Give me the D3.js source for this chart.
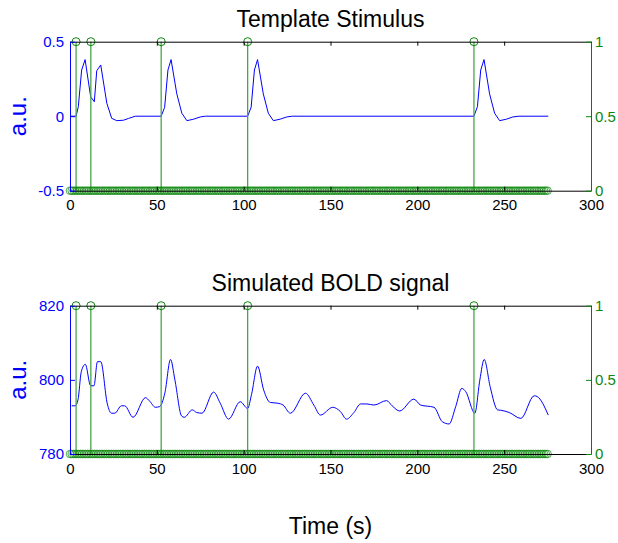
<!DOCTYPE html>
<html>
<head>
<meta charset="utf-8">
<script src="https://cdn.jsdelivr.net/npm/d3@7/dist/d3.min.js"></script>
<style>
html,body{margin:0;padding:0;background:#fff;}
svg{display:block;}
text{font-family:"Liberation Sans",Arial,Helvetica,sans-serif;}
</style>
</head>
<body>
<svg id="chart" width="618" height="543"></svg>
<script>
// ---------- data ----------
const xTicks = [0, 50, 100, 150, 200, 250, 300];
const topLeftTicks = [-0.5, 0, 0.5];
const botLeftTicks = [780, 800, 820];
const rightTicks = [0, 0.5, 1];

// stimulus onsets (stems with value 1)
const onsets = [3.5, 12, 52.5, 102.3, 232.6];
// stimulus sample times with value 0 (every 1 s)
const zeroTimes = d3.range(0, 276, 1);

// Template stimulus [time, a.u.]
const templateT = [0,3.5,4.8,6.7,8.7,11.9,14,15.4,17.7,21.2,24,26.9,30.8,33.7,37.6,
  52.5,54.5,56.4,58.2,61.5,64.4,67.3,71.2,75,78,
  102.3,104.3,106.2,108,111.3,114.2,117.1,121,124.8,128,
  232.6,234.6,236.5,238.4,241.6,244.5,247.4,251.3,255,258.5,275.4];
const templateV = [0,0,0.064,0.31,0.38,0.13,0.097,0.305,0.344,0.087,-0.014,-0.03,-0.027,-0.015,0,
  0,0.06,0.31,0.38,0.15,0.02,-0.03,-0.02,-0.005,0,
  0,0.06,0.31,0.38,0.15,0.02,-0.03,-0.02,-0.005,0,
  0,0.064,0.31,0.38,0.15,0.02,-0.03,-0.02,-0.005,0,0];

// Simulated BOLD signal [time, a.u.]
const boldT = [1,3,4.6,6.5,8.8,11.9,13.8,15.8,17.7,21.5,23.8,25.8,29.6,31.5,36.3,43.5,45.8,49.2,51.7,
  54.6,57.9,60.4,64.2,65.8,70.4,72.9,76,82.7,86.5,91.3,98,102.3,104.5,108,111.5,115.3,119.6,122.7,
  126.9,135.6,140.4,144.2,151.3,155.8,159.2,163.5,167.3,171,175,182.3,185.5,189.8,198,201.9,209.6,
  214.4,218.3,222.1,225.6,227.9,233.1,236,238.5,242,246.2,248,252.9,259.6,267.3,269,275.4];
const boldV = [793,793,794.6,802.2,804.2,798.4,798.4,804.9,804.9,793.5,791,791,793,793,789.9,795.2,794.3,792.6,792.8,
  796.4,805.5,800,790.3,789.9,791.9,791.2,791,796.7,793.7,789.4,794.1,792.3,796,803.7,797.3,793.9,793.7,793.2,
  791,796.4,793.2,790.5,792.6,791.4,789.4,791.2,793.5,793.5,793.2,794.4,793,791.6,794.8,793.2,792.6,
  788.7,788.1,792.8,797.7,796.8,791,800,805.5,798,791.9,791.8,791.2,789.6,795.7,795.5,790.5];

// ---------- drawing ----------
const svg = d3.select("#chart");
const X0 = 70, X1 = 591;
const x = d3.scaleLinear().domain([0, 300]).range([X0, X1]);
const BLUE = "#0000ff", GREEN = "#0c870c", STEM = "#4aa64a", TEAL = "#1f5a78";
const fmt = d => String(d);

function panel(cfg) {
  const yL = d3.scaleLinear().domain(cfg.leftDomain).range([cfg.bottom, cfg.top]);
  const yR = d3.scaleLinear().domain([0, 1]).range([cfg.bottom, cfg.top]);
  const g = svg.append("g");

  // blue series
  const line = d3.line().x(d => x(d[0])).y(d => yL(d[1])).curve(cfg.curve);
  g.append("path")
    .datum(cfg.t.map((t, i) => [t, cfg.v[i]]))
    .attr("fill", "none").attr("stroke", BLUE).attr("stroke-width", 1)
    .attr("d", line);

  // stems
  g.selectAll("line.stem").data(onsets).join("line")
    .attr("x1", d => x(d)).attr("x2", d => x(d))
    .attr("y1", yR(0)).attr("y2", yR(1))
    .attr("stroke", STEM).attr("stroke-width", 1.3);
  g.selectAll("circle.zero").data(zeroTimes).join("circle")
    .attr("cx", d => x(d)).attr("cy", yR(0)).attr("r", 3.8)
    .attr("fill", "none").attr("stroke", GREEN).attr("stroke-width", 0.7);
  g.selectAll("circle.one").data(onsets).join("circle")
    .attr("cx", d => x(d)).attr("cy", yR(1)).attr("r", 4)
    .attr("fill", "none").attr("stroke", GREEN).attr("stroke-width", 1);

  // axes
  const axB = g.append("g").attr("transform", `translate(0,${cfg.bottom})`)
    .call(d3.axisBottom(x).tickValues(xTicks).tickSizeInner(-4).tickSizeOuter(0).tickPadding(9).tickFormat(fmt));
  axB.select(".domain").attr("stroke", "#000");
  axB.selectAll("line").attr("stroke", "#000");
  axB.selectAll("text").attr("fill", "#000").style("font-size", "15px");

  const axT = g.append("g").attr("transform", `translate(0,${cfg.top})`)
    .call(d3.axisTop(x).tickValues(xTicks).tickSizeInner(-4).tickSizeOuter(0).tickFormat(""));
  axT.select(".domain").attr("stroke", "#000");
  axT.selectAll("line").attr("stroke", "#000");

  const axL = g.append("g").attr("transform", `translate(${X0},0)`)
    .call(d3.axisLeft(yL).tickValues(cfg.leftTicks).tickSizeInner(-5).tickSizeOuter(0).tickPadding(6).tickFormat(fmt));
  axL.select(".domain").attr("stroke", BLUE);
  axL.selectAll("line").attr("stroke", BLUE);
  axL.selectAll("text").attr("fill", BLUE).style("font-size", "15px");

  const axR = g.append("g").attr("transform", `translate(${X1},0)`)
    .call(d3.axisRight(yR).tickValues(rightTicks).tickSizeInner(-5).tickSizeOuter(0).tickPadding(4).tickFormat(fmt));
  axR.select(".domain").attr("stroke", TEAL);
  axR.selectAll("line").attr("stroke", GREEN);
  axR.selectAll("text").attr("fill", GREEN).style("font-size", "15px");

  // title
  g.append("text").attr("x", (X0 + X1) / 2).attr("y", cfg.titleY)
    .attr("text-anchor", "middle").style("font-size", "23px").attr("fill", "#000")
    .text(cfg.title);
  // y label
  g.append("text")
    .attr("transform", `translate(26,${(cfg.top + cfg.bottom) / 2}) rotate(-90)`)
    .attr("text-anchor", "middle").style("font-size", "24px").attr("fill", BLUE)
    .text("a.u.");
}

panel({top: 41.7, bottom: 190.7, leftDomain: [-0.5, 0.5], leftTicks: topLeftTicks,
       t: templateT, v: templateV, curve: d3.curveLinear, title: "Template Stimulus", titleY: 26.5});
panel({top: 305.7, bottom: 454, leftDomain: [780, 820], leftTicks: botLeftTicks,
       t: boldT, v: boldV, curve: d3.curveMonotoneX, title: "Simulated BOLD signal", titleY: 290.5});

svg.append("text").attr("x", (X0 + X1) / 2).attr("y", 534)
  .attr("text-anchor", "middle").style("font-size", "23px").attr("fill", "#000")
  .text("Time (s)");
</script>
</body>
</html>
